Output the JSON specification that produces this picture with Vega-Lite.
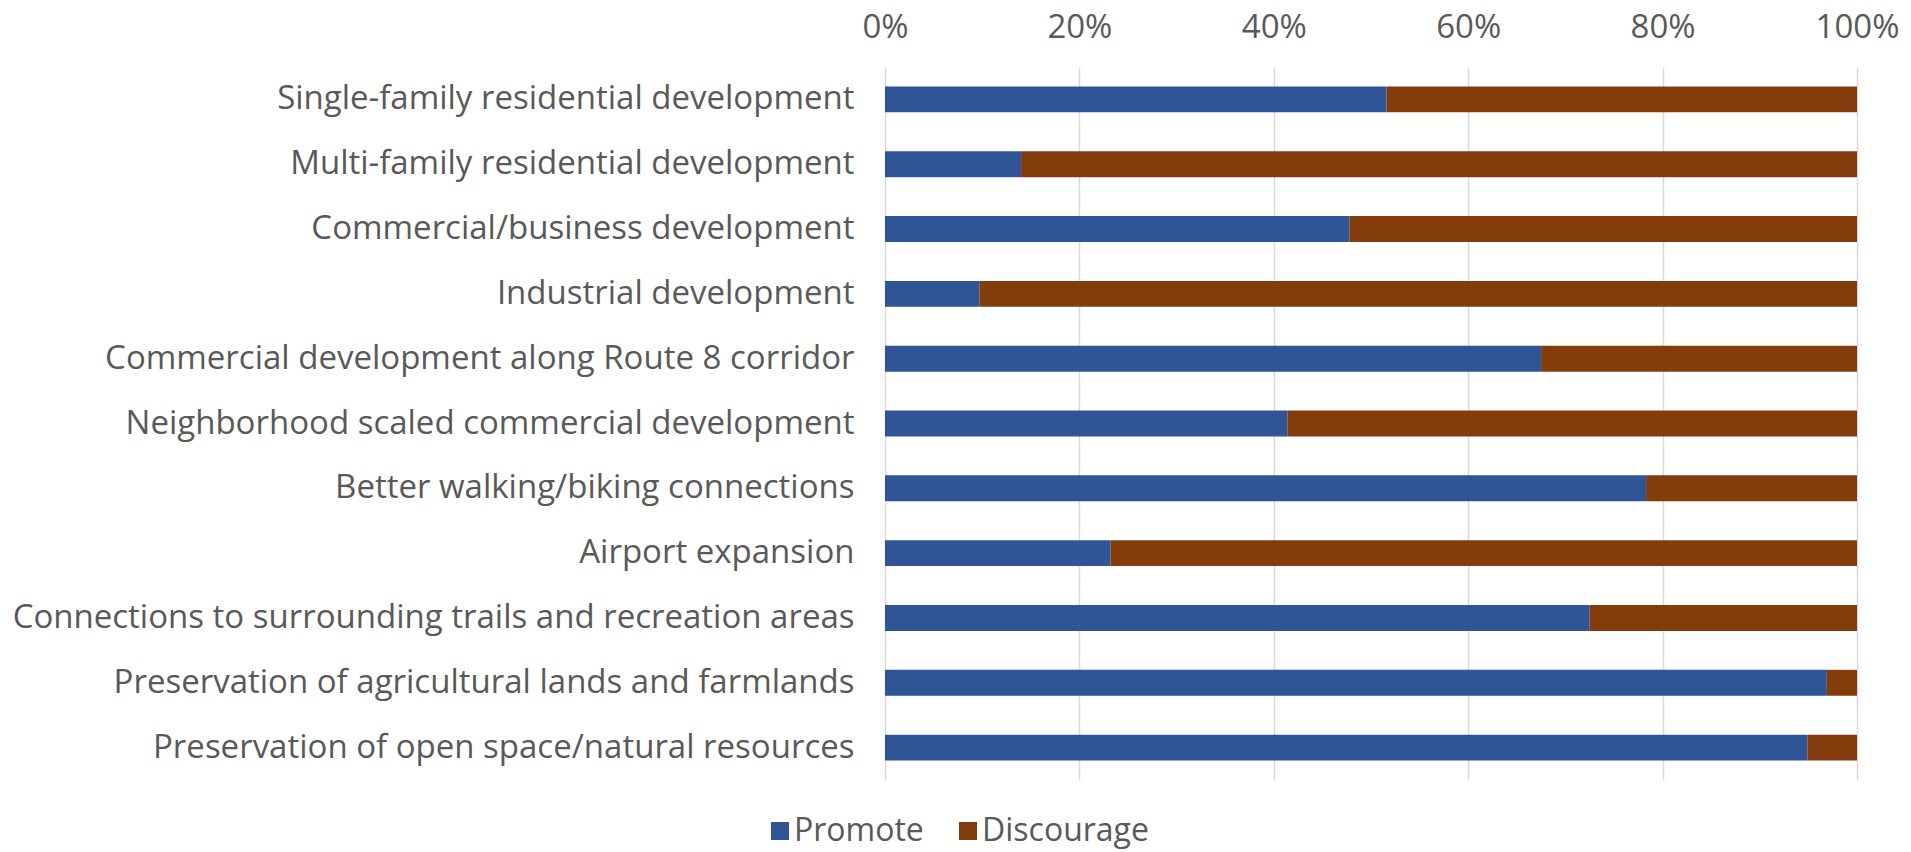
{
  "$schema": "https://vega.github.io/schema/vega-lite/v6.json",
  "width": 972,
  "height": 713,
  "autosize": {"type": "none"},
  "padding": {"left": 885, "top": 67, "right": 54, "bottom": 72},
  "background": "white",
  "config": {"view": {"stroke": null}, "font": "Open Sans"},
  "data": {
    "values": [
      {"item": "Single-family residential development", "response": "Promote", "k": 1, "value": 0.516},
      {"item": "Single-family residential development", "response": "Discourage", "k": 2, "value": 0.484},
      {"item": "Multi-family residential development\u00a0", "response": "Promote", "k": 1, "value": 0.140},
      {"item": "Multi-family residential development\u00a0", "response": "Discourage", "k": 2, "value": 0.860},
      {"item": "Commercial/business development", "response": "Promote", "k": 1, "value": 0.478},
      {"item": "Commercial/business development", "response": "Discourage", "k": 2, "value": 0.522},
      {"item": "Industrial development", "response": "Promote", "k": 1, "value": 0.097},
      {"item": "Industrial development", "response": "Discourage", "k": 2, "value": 0.903},
      {"item": "Commercial development along Route 8 corridor", "response": "Promote", "k": 1, "value": 0.675},
      {"item": "Commercial development along Route 8 corridor", "response": "Discourage", "k": 2, "value": 0.325},
      {"item": "Neighborhood scaled commercial development\u00a0", "response": "Promote", "k": 1, "value": 0.414},
      {"item": "Neighborhood scaled commercial development\u00a0", "response": "Discourage", "k": 2, "value": 0.586},
      {"item": "Better walking/biking connections", "response": "Promote", "k": 1, "value": 0.783},
      {"item": "Better walking/biking connections", "response": "Discourage", "k": 2, "value": 0.217},
      {"item": "Airport expansion", "response": "Promote", "k": 1, "value": 0.232},
      {"item": "Airport expansion", "response": "Discourage", "k": 2, "value": 0.768},
      {"item": "Connections to surrounding trails and recreation areas", "response": "Promote", "k": 1, "value": 0.725},
      {"item": "Connections to surrounding trails and recreation areas", "response": "Discourage", "k": 2, "value": 0.275},
      {"item": "Preservation of agricultural lands and farmlands", "response": "Promote", "k": 1, "value": 0.969},
      {"item": "Preservation of agricultural lands and farmlands", "response": "Discourage", "k": 2, "value": 0.031},
      {"item": "Preservation of open space/natural resources", "response": "Promote", "k": 1, "value": 0.949},
      {"item": "Preservation of open space/natural resources", "response": "Discourage", "k": 2, "value": 0.051}
    ]
  },
  "mark": {"type": "bar"},
  "encoding": {
    "y": {
      "field": "item",
      "type": "nominal",
      "sort": null,
      "scale": {"paddingInner": 0.6, "paddingOuter": 0.3},
      "axis": {
        "title": null,
        "domain": false,
        "ticks": false,
        "grid": false,
        "labelFont": "Open Sans",
        "labelFontSize": 33,
        "labelColor": "#595959",
        "labelPadding": 31,
        "labelLimit": 0
      }
    },
    "x": {
      "field": "value",
      "type": "quantitative",
      "stack": "zero",
      "scale": {"domain": [0, 1], "nice": false},
      "axis": {
        "orient": "top",
        "format": ".0%",
        "values": [0, 0.2, 0.4, 0.6, 0.8, 1],
        "title": null,
        "domain": false,
        "ticks": false,
        "grid": true,
        "gridColor": "#D9D9D9",
        "gridWidth": 1.5,
        "labelFont": "Open Sans",
        "labelFontSize": 33,
        "labelColor": "#595959",
        "labelPadding": 23,
        "labelFlush": false
      }
    },
    "color": {
      "field": "response",
      "type": "nominal",
      "scale": {"domain": ["Promote", "Discourage"], "range": ["#2F5597", "#843C0C"]},
      "legend": {
        "title": null,
        "orient": "none",
        "direction": "horizontal",
        "legendX": -121,
        "legendY": 748,
        "symbolType": "square",
        "symbolSize": 324,
        "symbolStrokeWidth": 0,
        "labelFont": "Open Sans",
        "labelFontSize": 32,
        "labelColor": "#595959",
        "labelOffset": -2,
        "labelLimit": 0,
        "columnPadding": 28,
        "padding": 0
      }
    },
    "order": {"field": "k", "type": "quantitative"}
  }
}
